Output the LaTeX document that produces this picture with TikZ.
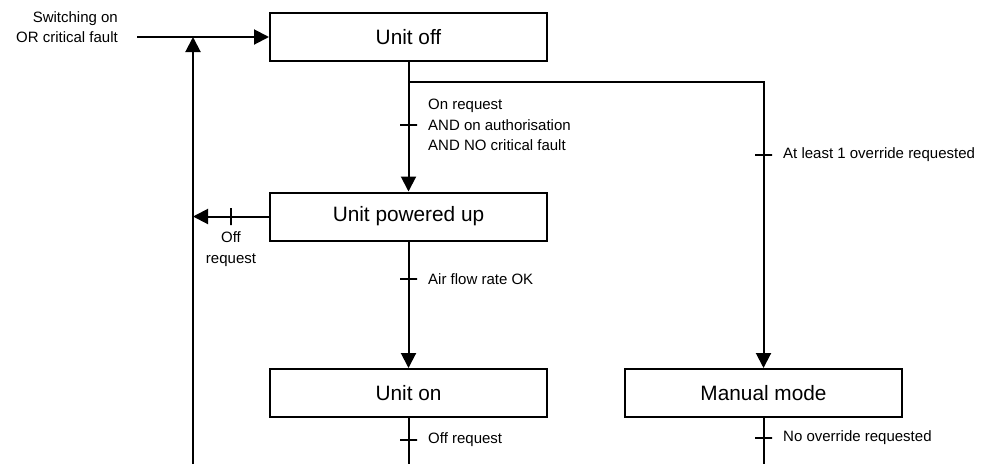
\documentclass[tikz,border=0pt]{standalone}
\usepackage{fontspec}
\setmainfont{Liberation Sans}
\usetikzlibrary{arrows.meta}
\begin{document}
\begin{tikzpicture}[x=1pt,y=-1pt,
  state/.style={draw, line width=2pt, minimum width=277pt, minimum height=48pt,
    inner sep=0pt, font=\fontsize{20.8}{24}\selectfont},
  conn/.style={line width=2pt},
  arr/.style={conn, -{Triangle[length=15pt,width=15pt]}},
  htick/.style={draw, line width=1.6pt, minimum width=17pt, minimum height=0pt,
    inner sep=0pt, outer sep=0pt},
  vtick/.style={draw, line width=1.6pt, minimum width=0pt, minimum height=17pt,
    inner sep=0pt, outer sep=0pt},
  lbl/.style={inner sep=0pt, font=\fontsize{15}{20.5}\selectfont},
]
\useasboundingbox (0,0) rectangle (987,464);

% states
\node[state] (off)    at (408.5,37)  {Unit off};
\node[state] (pwr)    at (408.5,216.5) {Unit powered up};
\node[state] (on)     at (408.5,393) {Unit on};
\node[state] (manual) at (763.5,393) {Manual mode};

% free ends of connectors
\coordinate (src)  at (137,37);
\coordinate (join) at (193,37);
\coordinate (lb)   at (193,464);
\coordinate (ret)  at (193,216.5);
\coordinate (br)   at (763.5,82);
\coordinate (onb)  at (408.5,464);
\coordinate (mb)   at (763.5,464);

% connectors
\draw[arr] (src) -- (off.west);
\draw[arr] (lb) -- (join);
\draw[arr] (off.south) -- (pwr.north);
\draw[arr] (off.south |- br) -- (br) -- (manual.north);
\draw[arr] (pwr.west) -- (ret);
\draw[arr] (pwr.south) -- (on.north);
\draw[conn] (on.south) -- (onb);
\draw[conn] (manual.south) -- (mb);

% transition ticks
\node[htick] (t1) at (408.5,125) {};
\node[htick] (t2) at (763.5,155) {};
\node[vtick] (t3) at (231,216.5) {};
\node[htick] (t4) at (408.5,279) {};
\node[htick] (t5) at (408.5,440) {};
\node[htick] (t6) at (763.5,438) {};

% transition conditions
\node[lbl, align=right, anchor=east] (c0) at (118,27) {Switching on\\OR critical fault};
\node[lbl, align=left, anchor=west] (c1) at (428,125) {On request\\AND on authorisation\\AND NO critical fault};
\node[lbl, anchor=west] (c2) at (783,155) {At least 1 override requested};
\node[lbl, align=center] (c3) at (231,249) {Off\\request};
\node[lbl, anchor=west] (c4) at (428,279) {Air flow rate OK};
\node[lbl, anchor=west] (c5) at (428,440) {Off request};
\node[lbl, anchor=west] (c6) at (783,438) {No override requested};
\end{tikzpicture}
\end{document}
